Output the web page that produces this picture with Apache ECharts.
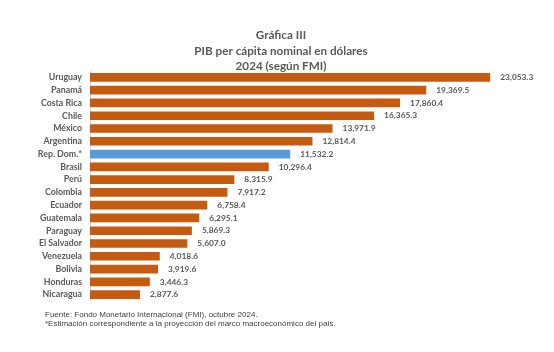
<!DOCTYPE html>
<html>
<head>
<meta charset="utf-8">
<script src="https://cdn.jsdelivr.net/npm/echarts@6/dist/echarts.min.js"></script>
<style>
  html, body { margin: 0; padding: 0; background: #fff; }
  #chart { width: 554px; height: 352px; }
</style>
</head>
<body>
<div id="chart"></div>
<script>
// datos (orden de arriba hacia abajo)
var paises = ['Uruguay', 'Panamá', 'Costa Rica', 'Chile', 'México', 'Argentina', 'Rep. Dom.*',
  'Brasil', 'Perú', 'Colombia', 'Ecuador', 'Guatemala', 'Paraguay', 'El Salvador',
  'Venezuela', 'Bolivia', 'Honduras', 'Nicaragua']
var pibPerCapita = [23053.3, 19369.5, 17860.4, 16365.3, 13971.9, 12814.4, 11532.2,
  10296.4, 8315.9, 7917.2, 6758.4, 6295.1, 5869.3, 5607.0,
  4018.6, 3919.6, 3446.3, 2877.6]
var destacado = 'Rep. Dom.*'

var naranja = '#C55A11'
var azul = '#5B9BD5'
var gris = '#595959'

function fmt(v) {
  return v.toLocaleString('en-US', { minimumFractionDigits: 1, maximumFractionDigits: 1 })
}

var chart = echarts.init(document.getElementById('chart'))
chart.setOption({
  animation: false,
  title: {
    text: 'Gráfica III\nPIB per cápita nominal en dólares\n2024 (según FMI)',
    left: 276,
    textAlign: 'center',
    top: 23,
    textStyle: {
      fontFamily: 'Lato',
      fontSize: 11.7,
      fontWeight: 'bold',
      color: gris,
      lineHeight: 15.3
    }
  },
  graphic: [
    {
      type: 'text',
      left: 45,
      top: 310,
      style: {
        text: 'Fuente: Fondo Monetario Internacional (FMI), octubre 2024.\n*Estimación correspondiente a la proyección del marco macroeconómico del país.',
        font: '8px "Liberation Sans", Arial, sans-serif',
        fill: '#404040',
        lineHeight: 9.5
      }
    }
  ],
  grid: {
    left: 90,
    right: 30,
    top: 71,
    bottom: 51,
    containLabel: false
  },
  xAxis: {
    type: 'value',
    min: 0,
    max: 25000,
    show: false
  },
  yAxis: {
    type: 'category',
    inverse: true,
    data: paises,
    axisTick: { show: false },
    axisLine: { show: true, lineStyle: { color: '#D9D9D9', width: 1 } },
    axisLabel: {
      fontFamily: 'Lato',
      fontSize: 8.8,
      fontWeight: 'bold',
      color: gris,
      margin: 8
    }
  },
  series: [
    {
      type: 'bar',
      barCategoryGap: '32%',
      data: pibPerCapita.map(function (v, i) {
        return {
          value: v,
          itemStyle: { color: paises[i] === destacado ? azul : naranja }
        }
      }),
      label: {
        show: true,
        position: 'right',
        distance: 10,
        fontFamily: 'Lato',
        fontSize: 8.4,
        fontWeight: 'bold',
        color: gris,
        formatter: function (p) { return fmt(p.value) }
      }
    }
  ]
})
</script>
</body>
</html>
